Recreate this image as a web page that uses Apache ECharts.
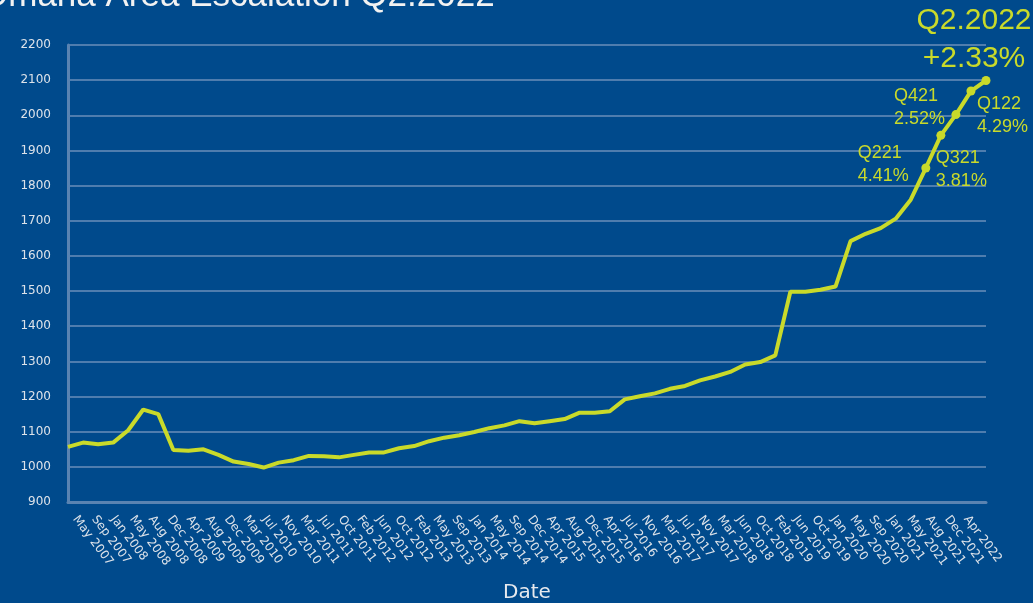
<!DOCTYPE html>
<html>
<head>
<meta charset="utf-8">
<script src="https://cdn.jsdelivr.net/npm/echarts@6/dist/echarts.min.js"></script>
<style>
html,body{margin:0;padding:0;background:#004a8c;}
#chart{width:1033px;height:603px;}
</style>
</head>
<body>
<div id="chart"></div>
<script>
const titleText = 'Omaha Area Escalation Q2.2022';

// hidden quarterly categories for the data points
const quarters = [
  'Q1 2007','Q2 2007','Q3 2007','Q4 2007',
  'Q1 2008','Q2 2008','Q3 2008','Q4 2008',
  'Q1 2009','Q2 2009','Q3 2009','Q4 2009',
  'Q1 2010','Q2 2010','Q3 2010','Q4 2010',
  'Q1 2011','Q2 2011','Q3 2011','Q4 2011',
  'Q1 2012','Q2 2012','Q3 2012','Q4 2012',
  'Q1 2013','Q2 2013','Q3 2013','Q4 2013',
  'Q1 2014','Q2 2014','Q3 2014','Q4 2014',
  'Q1 2015','Q2 2015','Q3 2015','Q4 2015',
  'Q1 2016','Q2 2016','Q3 2016','Q4 2016',
  'Q1 2017','Q2 2017','Q3 2017','Q4 2017',
  'Q1 2018','Q2 2018','Q3 2018','Q4 2018',
  'Q1 2019','Q2 2019','Q3 2019','Q4 2019',
  'Q1 2020','Q2 2020','Q3 2020','Q4 2020',
  'Q1 2021','Q2 2021','Q3 2021','Q4 2021',
  'Q1 2022','Q2 2022'
];

// escalation index values
const indexValues = [
  1057,1069,1064,1069,1104,1163,1150,1048,1046,1050,
  1034,1015,1008,998,1012,1019,1031,1030,1027,1034,
  1041,1041,1053,1059,1073,1083,1090,1099,1110,1118,
  1130,1124,1130,1136,1154,1154,1158,1192,1201,1209,
  1222,1230,1246,1257,1270,1291,1298,1317,1498,1498,
  1504,1513,1642,1663,1679,1706,1760,1850,1943,2002,
  2069,2099
];

// visible date tick labels
const tickLabels = [
  'May 2007','Sep 2007','Jan 2008','May 2008','Aug 2008','Dec 2008',
  'Apr 2009','Aug 2009','Dec 2009','Mar 2010','Jul 2010','Nov 2010',
  'Mar 2011','Jul 2011','Oct 2011','Feb 2012','Jun 2012','Oct 2012',
  'Feb 2013','May 2013','Sep 2013','Jan 2014','May 2014','Sep 2014',
  'Dec 2014','Apr 2015','Aug 2015','Dec 2015','Apr 2016','Jul 2016',
  'Nov 2016','Mar 2017','Jul 2017','Nov 2017','Mar 2018','Jun 2018',
  'Oct 2018','Feb 2019','Jun 2019','Oct 2019','Jan 2020','May 2020',
  'Sep 2020','Jan 2021','May 2021','Aug 2021','Dec 2021','Apr 2022'
];

// annotations for the last quarters
const noteQuarters = ['Q221','Q321','Q421','Q122'];
const notePercents = ['4.41%','3.81%','2.52%','4.29%'];
const headline = ['Q2.2022','+2.33%'];

const lineColor = '#c9da2a';
const lastIndex = indexValues.length - 1;
const firstNoteIndex = lastIndex - noteQuarters.length;
const noteOffsets = [[-68,-27],[-5,11],[-62,-30],[6,1]];

const seriesData = indexValues.map(function (v, i) {
  if (i === lastIndex) {
    return {
      value: v, symbol: 'circle', symbolSize: 9,
      label: {
        show: true, position: 'inside', align: 'center', verticalAlign: 'top',
        offset: [-12, -79],
        formatter: headline.join('\n'),
        color: lineColor, fontSize: 30, lineHeight: 38,
        fontFamily: 'Liberation Sans'
      }
    };
  }
  if (i >= firstNoteIndex) {
    const k = i - firstNoteIndex;
    return {
      value: v, symbol: 'circle', symbolSize: 9,
      label: {
        show: true, position: 'inside', align: 'left', verticalAlign: 'top',
        offset: noteOffsets[k],
        formatter: noteQuarters[k] + '\n' + notePercents[k],
        color: lineColor, fontSize: 18, lineHeight: 23,
        fontFamily: 'Liberation Sans'
      }
    };
  }
  return { value: v, symbol: 'none' };
});

const chart = echarts.init(document.getElementById('chart'), null, { renderer: 'canvas' });
const axisColor = '#5a83b1';
const labelColor = '#dde3ea';

chart.setOption({
  backgroundColor: '#004a8c',
  animation: false,
  title: {
    text: titleText, left: -24, top: -26,
    textStyle: { color: '#f2f2f2', fontSize: 35, fontWeight: 'normal', fontFamily: 'Liberation Sans' }
  },
  grid: [
    { left: 68, right: 47, top: 45, bottom: 101, containLabel: false, outerBoundsMode: 'none' },
    { left: 75, right: 67, top: 45, bottom: 101, containLabel: false, outerBoundsMode: 'none' }
  ],
  xAxis: [
    {
      type: 'category', gridIndex: 0, data: quarters, boundaryGap: false,
      axisLine: { show: true, lineStyle: { color: axisColor, width: 3 } },
      axisTick: { show: false }, axisLabel: { show: false }, splitLine: { show: false },
      name: 'Date', nameLocation: 'middle', nameGap: 81,
      nameTextStyle: { color: '#e6e9ee', fontSize: 20, fontFamily: 'DejaVu Sans' }
    },
    {
      type: 'category', gridIndex: 1, data: tickLabels, boundaryGap: false,
      axisLine: { show: false }, axisTick: { show: false }, splitLine: { show: false },
      axisLabel: { interval: 0, rotate: -53, margin: 15, color: labelColor, fontSize: 12, fontFamily: 'DejaVu Sans' }
    }
  ],
  yAxis: [
    {
      type: 'value', gridIndex: 0, min: 900, max: 2200, interval: 100,
      axisLine: { show: true, lineStyle: { color: axisColor, width: 3 } },
      axisTick: { show: false },
      axisLabel: {
        color: labelColor, fontSize: 12, margin: 17, fontFamily: 'DejaVu Sans',
        formatter: function (v) { return String(v); }
      },
      splitLine: { show: true, lineStyle: { color: '#6a8fba', width: 1.5 } }
    },
    { type: 'value', gridIndex: 1, min: 0, max: 1, show: false }
  ],
  series: [{
    type: 'line', xAxisIndex: 0, yAxisIndex: 0,
    data: seriesData,
    showAllSymbol: true,
    lineStyle: { color: lineColor, width: 4 },
    itemStyle: { color: lineColor },
    z: 5
  }]
});
</script>
</body>
</html>
